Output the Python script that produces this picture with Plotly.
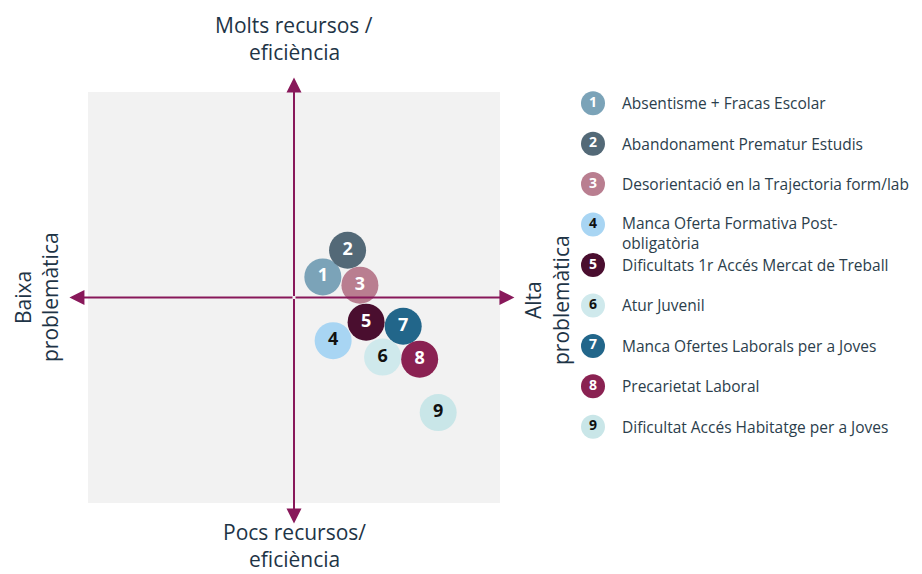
import plotly.graph_objects as go

# bubble positions: x = problemàtica, y = recursos / eficiència
ids = ["1", "2", "3", "4", "5", "6", "7", "8", "9"]
problematica = [1.4, 2.6, 3.2, 1.9, 3.5, 4.3, 5.3, 6.1, 7.0]
recursos = [1.0, 2.3, 0.6, -2.1, -1.2, -2.9, -1.4, -3.0, -5.6]
labels = [
    "Absentisme + Fracas Escolar",
    "Abandonament Prematur Estudis",
    "Desorientació en la Trajectoria form/lab",
    "Manca Oferta Formativa Post-<br>obligatòria",
    "Dificultats 1r Accés Mercat de Treball",
    "Atur Juvenil",
    "Manca Ofertes Laborals per a Joves",
    "Precarietat Laboral",
    "Dificultat Accés Habitatge per a Joves",
]
colors = ["#7BA3B8", "#536977", "#B97E90", "#A8D5F3", "#4A0E2F",
          "#CFE9EC", "#22668A", "#8A2252", "#C9E6E8"]
text_colors = ["white", "white", "white", "#111111", "white",
               "#111111", "white", "white", "#111111"]
rows = list(range(1, 10))

AXIS_COL = "#88185A"
TXT = "#1E3446"
FONT = "Open Sans"

# page body has an 8px margin, so the figure is drawn 8px smaller
W, H = 914, 566

fig = go.Figure()

fig.add_trace(go.Scatter(
    x=problematica, y=recursos, mode="markers+text",
    text=ids, textposition="middle center",
    marker=dict(size=37, color=colors, line=dict(width=0), opacity=1),
    textfont=dict(family=FONT, size=18, color=text_colors, weight="bold"),
    cliponaxis=False, hoverinfo="skip", showlegend=False,
    xaxis="x", yaxis="y"))

# custom legend
fig.add_trace(go.Scatter(
    x=[13] * len(rows), y=rows, mode="markers+text",
    text=ids, textposition="middle center",
    marker=dict(size=24, color=colors, line=dict(width=0)),
    textfont=dict(family=FONT, size=14, color=text_colors, weight="bold"),
    cliponaxis=False, hoverinfo="skip", showlegend=False,
    xaxis="x2", yaxis="y2"))

annotations = []
for r, lab in zip(rows, labels):
    annotations.append(dict(
        x=40, y=r, xref="x2", yref="y2", text=lab, showarrow=False,
        xanchor="left", yanchor="middle", align="left",
        yshift=-8 if "<br>" in lab else 0,
        font=dict(family=FONT, size=15.5, color="#2B3E4C")))

# axis arrows from the centre
for tx, ty in [(0, 10.7), (0, -11.0), (-10.9, 0), (10.7, 0)]:
    annotations.append(dict(
        x=tx, y=ty, ax=0, ay=0, xref="x", yref="y", axref="x", ayref="y",
        text="", showarrow=True, arrowhead=2, arrowsize=1.5,
        arrowwidth=2, arrowcolor=AXIS_COL))

# axis titles, one annotation per line to keep the line spacing tight
lab_font = dict(family=FONT, size=21, color=TXT)
common = dict(xref="paper", yref="paper", showarrow=False, font=lab_font,
              xanchor="center", yanchor="middle", borderpad=0)
title_lines = [
    ("Molts recursos /", 286, 17, 0),
    ("eficiència", 286, 44, 0),
    ("Pocs recursos/", 286, 524, 0),
    ("eficiència", 286, 551, 0),
    ("Baixa", 15, 289, -90),
    ("problemàtica", 42, 289, -90),
    ("Alta", 525, 292, -90),
    ("problemàtica", 553, 292, -90),
]
for txt, px, py, ang in title_lines:
    annotations.append(dict(x=px / W, y=1 - py / H, text=txt,
                            textangle=ang, **common))

fig.update_layout(
    width=W, height=H,
    margin=dict(l=0, r=0, t=0, b=0),
    paper_bgcolor="white", plot_bgcolor="white",
    annotations=annotations,
    shapes=[dict(type="rect", xref="x domain", yref="y domain",
                 x0=0, x1=1, y0=0, y1=1, fillcolor="#F2F2F2",
                 line=dict(width=0), layer="below")],
    xaxis=dict(domain=[80 / W, 492 / W], range=[-10, 10],
               visible=False, fixedrange=True),
    yaxis=dict(domain=[71 / H, 482 / H], range=[-10, 10],
               visible=False, fixedrange=True),
    xaxis2=dict(domain=[572 / W, 1], range=[0, 342], visible=False,
                anchor="y2"),
    yaxis2=dict(domain=[127 / H, 491 / H], range=[9.5, 0.5],
                visible=False, anchor="x2"),
)

fig.write_html("out.html")
